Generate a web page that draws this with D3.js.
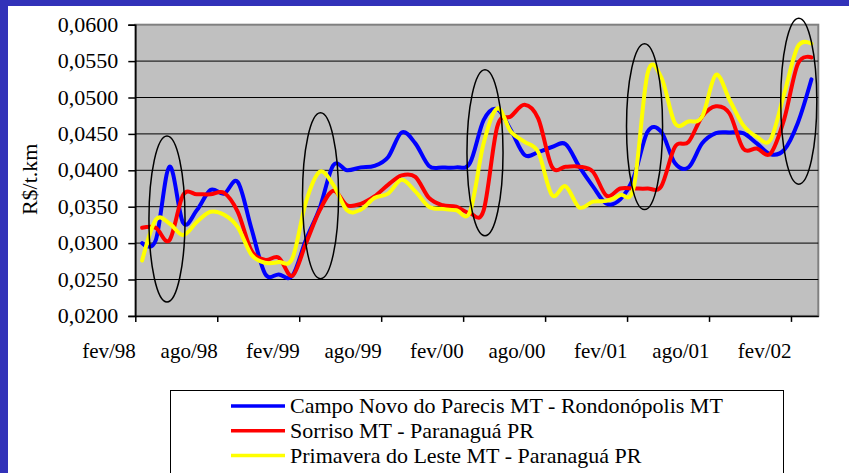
<!DOCTYPE html>
<html>
<head>
<meta charset="utf-8">
<script src="https://cdn.jsdelivr.net/npm/d3@7"></script>
<style>
body { margin: 0; background: #fff; }
svg { display: block; }
text { font-family: "Liberation Serif", "Times New Roman", serif; fill: #000; }
</style>
</head>
<body>
<script>
// monthly categories, fev/98 .. mar/02
var months = ["fev/98","mar/98","abr/98","mai/98","jun/98","jul/98","ago/98","set/98","out/98","nov/98","dez/98","jan/99",
              "fev/99","mar/99","abr/99","mai/99","jun/99","jul/99","ago/99","set/99","out/99","nov/99","dez/99","jan/00",
              "fev/00","mar/00","abr/00","mai/00","jun/00","jul/00","ago/00","set/00","out/00","nov/00","dez/00","jan/01",
              "fev/01","mar/01","abr/01","mai/01","jun/01","jul/01","ago/01","set/01","out/01","nov/01","dez/01","jan/02",
              "fev/02","mar/02"];
var tickLabels = ["fev/98","ago/98","fev/99","ago/99","fev/00","ago/00","fev/01","ago/01","fev/02"];
var yTicks = [0.020, 0.025, 0.030, 0.035, 0.040, 0.045, 0.050, 0.055, 0.060];

var campoNovo = [0.0300,0.0304,0.0405,0.0328,0.0345,0.0373,0.0368,0.0384,0.0320,0.0258,
                 0.0257,0.0255,0.0305,0.0348,0.0407,0.0400,0.0404,0.0406,0.0418,0.0452,
                 0.0437,0.0406,0.0404,0.0404,0.0410,0.0469,0.0484,0.0455,0.0421,0.0425,
                 0.0432,0.0436,0.0405,0.0378,0.0354,0.0360,0.0391,0.0453,0.0453,0.0410,
                 0.0404,0.0437,0.0451,0.0452,0.0451,0.0437,0.0422,0.0428,0.0465,0.0525];
var sorriso   = [0.0321,0.0321,0.0304,0.0366,0.0367,0.0367,0.0369,0.0343,0.0290,0.0277,
                 0.0280,0.0255,0.0300,0.0345,0.0372,0.0352,0.0354,0.0364,0.0380,0.0393,
                 0.0391,0.0362,0.0352,0.0350,0.0341,0.0345,0.0460,0.0474,0.0490,0.0471,
                 0.0405,0.0405,0.0405,0.0398,0.0365,0.0375,0.0375,0.0375,0.0378,0.0432,
                 0.0439,0.0474,0.0488,0.0478,0.0430,0.0430,0.0423,0.0470,0.0546,0.0555];
var primavera = [0.0276,0.0332,0.0327,0.0311,0.0329,0.0343,0.0339,0.0322,0.0284,0.0273,
                 0.0274,0.0279,0.0357,0.0398,0.0380,0.0345,0.0346,0.0362,0.0368,0.0387,
                 0.0371,0.0350,0.0347,0.0345,0.0343,0.0437,0.0485,0.0453,0.0439,0.0425,
                 0.0366,0.0378,0.0349,0.0357,0.0358,0.0366,0.0378,0.0533,0.0528,0.0465,
                 0.0467,0.0474,0.0531,0.0497,0.0462,0.0446,0.0442,0.0505,0.0570,0.0574];

var seriesNames = ["Campo Novo do Parecis MT  - Rondonópolis MT",
                   "Sorriso MT  - Paranaguá PR",
                   "Primavera do Leste MT  - Paranaguá PR"];
var seriesColors = ["#0000ff", "#ff0000", "#ffff00"];

// highlight rings (month position, centre value)
var ringMonth = [1.82, 13.06, 25.10, 36.78, 48.07];
var ringValue = [0.0333, 0.0365, 0.0424, 0.0460, 0.0495];
var ringHalfMonths = 1.32;
var ringHalfValue = 0.0114;

var W = 849, H = 473;
var plotL = 135.3, plotR = 818.3, plotT = 24.7, plotB = 315.9;

var svg = d3.select("body").append("svg").attr("width", W).attr("height", H);

// slide frame
svg.append("rect").attr("x", 0).attr("y", 0).attr("width", W).attr("height", 6).attr("fill", "#3232b9");
svg.append("rect").attr("x", 0).attr("y", 0).attr("width", 8).attr("height", H).attr("fill", "#3232b9");

var x = d3.scaleLinear().domain([0, months.length]).range([plotL, plotR]);
var y = d3.scaleLinear().domain([0.02, 0.06]).range([plotB, plotT]);

// plot area
svg.append("rect")
    .attr("x", plotL).attr("y", plotT)
    .attr("width", plotR - plotL).attr("height", plotB - plotT)
    .attr("fill", "#c0c0c0")
    .attr("stroke", "#808080")
    .attr("stroke-width", 2);

svg.selectAll("line.grid")
    .data(yTicks.slice(1, -1))
    .enter().append("line")
    .attr("class", "grid")
    .attr("x1", plotL).attr("x2", plotR)
    .attr("y1", function(d) { return y(d); })
    .attr("y2", function(d) { return y(d); })
    .attr("stroke", "#000").attr("stroke-width", 1);

// y axis
var yAxis = d3.axisLeft(y)
    .tickValues(yTicks)
    .tickSize(7)
    .tickPadding(10)
    .tickFormat(function(d) { return d3.format(".4f")(d).replace(".", ","); });
var gy = svg.append("g").attr("transform", "translate(" + plotL + ",0)").call(yAxis);
gy.select(".domain").attr("stroke", "#000").attr("stroke-width", 1.5);
gy.selectAll(".tick line").attr("stroke", "#000").attr("stroke-width", 1.5);
gy.selectAll(".tick text")
    .attr("font-size", 22)
    .attr("font-family", "Liberation Serif")
    .attr("fill", "#000")
    .attr("dy", "0.3em");

// x axis (ticks every 6 months, labels right-aligned to tick)
var tickIdx = tickLabels.map(function(l) { return months.indexOf(l); });
var xAxis = d3.axisBottom(x)
    .tickValues(tickIdx)
    .tickSize(6)
    .tickSizeOuter(0)
    .tickFormat(function(d) { return months[d]; });
var gx = svg.append("g").attr("transform", "translate(0," + plotB + ")").call(xAxis);
gx.select(".domain").attr("stroke", "#000").attr("stroke-width", 1.5);
gx.selectAll(".tick line").attr("stroke", "#000").attr("stroke-width", 1.5);
gx.selectAll(".tick text")
    .attr("font-size", 21)
    .attr("font-family", "Liberation Serif")
    .attr("fill", "#000")
    .attr("text-anchor", "end")
    .attr("dy", 0)
    .attr("y", 42);

svg.append("text")
    .attr("transform", "translate(37," + ((plotT + plotB) / 2 + 9) + ") rotate(-90)")
    .attr("text-anchor", "middle")
    .attr("font-size", 22)
    .text("R$/t.km");

// series
var series = [campoNovo, sorriso, primavera];
var line = d3.line()
    .x(function(d, i) { return x(i + 0.5); })
    .y(function(d) { return y(d); })
    .curve(d3.curveCardinal.tension(0));

svg.selectAll("path.series")
    .data(series)
    .enter().append("path")
    .attr("class", "series")
    .attr("d", line)
    .attr("fill", "none")
    .attr("stroke", function(d, i) { return seriesColors[i]; })
    .attr("stroke-width", 4)
    .attr("stroke-linejoin", "round")
    .attr("stroke-linecap", "round");

// rings
svg.selectAll("ellipse.ring")
    .data(ringMonth)
    .enter().append("ellipse")
    .attr("class", "ring")
    .attr("cx", function(d) { return x(d + 0.5); })
    .attr("cy", function(d, i) { return y(ringValue[i]); })
    .attr("rx", x(ringHalfMonths) - x(0))
    .attr("ry", y(0.02) - y(0.02 + ringHalfValue))
    .attr("fill", "none")
    .attr("stroke", "#000")
    .attr("stroke-width", 1.5);

// legend
var lg = svg.append("g");
lg.append("rect")
    .attr("x", 170.5).attr("y", 390.5)
    .attr("width", 613).attr("height", 120)
    .attr("fill", "#fff")
    .attr("stroke", "#000").attr("stroke-width", 1);
var rows = lg.selectAll("g.row")
    .data(seriesNames)
    .enter().append("g")
    .attr("class", "row")
    .attr("transform", function(d, i) { return "translate(0," + (406 + i * 24.8) + ")"; });
rows.append("line")
    .attr("x1", 231).attr("x2", 285)
    .attr("y1", 0).attr("y2", 0)
    .attr("stroke", function(d, i) { return seriesColors[i]; })
    .attr("stroke-width", 3.5);
rows.append("text")
    .attr("x", 290).attr("y", 7)
    .attr("font-size", 22)
    .text(function(d) { return d; });
</script>
</body>
</html>
